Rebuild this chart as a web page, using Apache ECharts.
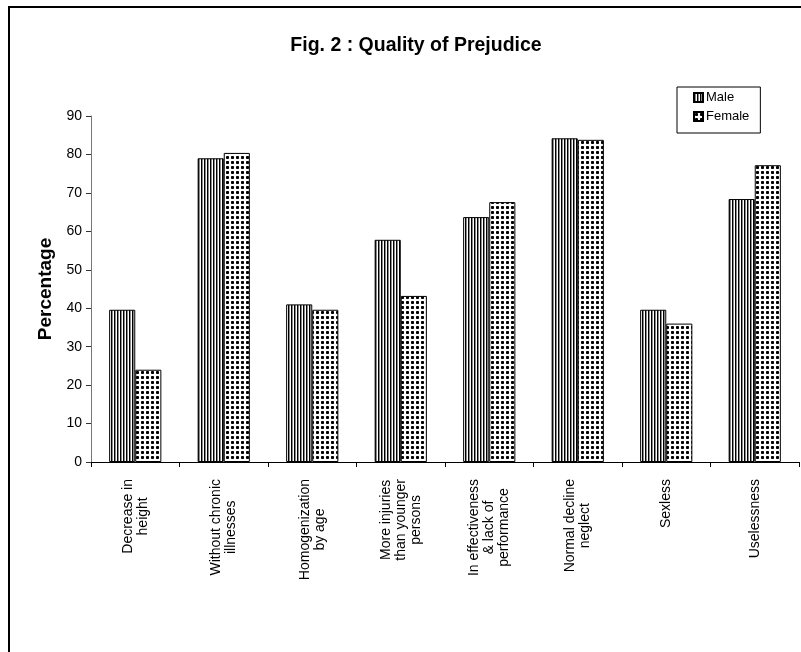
<!DOCTYPE html>
<html>
<head>
<meta charset="utf-8">
<script src="https://cdn.jsdelivr.net/npm/echarts@6/dist/echarts.min.js"></script>
<style>
  html, body { margin: 0; padding: 0; background: #fff; }
  #chart { width: 801px; height: 652px; }
</style>
</head>
<body>
<div id="chart"></div>
<script>
const categories = [
  'Decrease in\nheight',
  'Without chronic\nillnesses',
  'Homogenization\nby age',
  'More injuries\nthan younger\npersons',
  'In effectiveness\n& lack of\nperformance',
  'Normal decline\nneglect',
  'Sexless',
  'Uselessness'
]
const maleValues = [39.6, 79, 41, 57.8, 63.7, 84.2, 39.6, 68.4]
const femaleValues = [24, 80.4, 39.6, 43.2, 67.6, 83.8, 36, 77.2]
const seriesNames = ['Male', 'Female']

const FONT = '"Liberation Sans", Arial, sans-serif'

// fill patterns: vertical stripes for Male, dotted for Female
function makePattern(w, h, draw) {
  const c = document.createElement('canvas')
  c.width = w; c.height = h
  const ctx = c.getContext('2d')
  ctx.fillStyle = '#fff'
  ctx.fillRect(0, 0, w, h)
  draw(ctx)
  return { image: c, repeat: 'repeat' }
}
const stripes = makePattern(3, 4, ctx => {
  ctx.fillStyle = '#000'; ctx.fillRect(0, 0, 1, 4)
  ctx.fillStyle = '#8a8a8a'; ctx.fillRect(1, 0, 1, 4)
})
const dots = makePattern(5, 5, ctx => {
  ctx.fillStyle = '#000'
  ctx.fillRect(1, 2, 3, 1)
  ctx.fillRect(2, 1, 1, 3)
  ctx.fillStyle = '#333'
  ctx.fillRect(1, 1, 1, 1); ctx.fillRect(3, 1, 1, 1)
  ctx.fillRect(1, 3, 1, 1); ctx.fillRect(3, 3, 1, 1)
})

const chart = echarts.init(document.getElementById('chart'), null, { renderer: 'canvas' })

chart.setOption({
  animation: false,
  backgroundColor: '#fff',
  textStyle: { fontFamily: FONT },
  title: {
    text: 'Fig. 2 : Quality of Prejudice',
    left: 411, top: 31, textAlign: 'center',
    textStyle: { fontFamily: FONT, fontSize: 19.5, fontWeight: 'bold', color: '#000' }
  },
  graphic: [{
    type: 'rect', z: -10,
    shape: { x: 9, y: 7, width: 900, height: 900 },
    style: { fill: 'none', stroke: '#000', lineWidth: 2 }
  }],
  legend: {
    orient: 'vertical',
    left: 677, top: 87,
    padding: [4, 11, 10, 16],
    itemWidth: 9, itemHeight: 9, itemGap: 6,
    icon: 'rect',
    backgroundColor: '#fff',
    borderColor: '#000', borderWidth: 1,
    textStyle: { fontFamily: FONT, fontSize: 13, color: '#000', padding: [0, 0, 0, -2] },
    data: seriesNames
  },
  grid: { left: 91, right: 2, top: 116, bottom: 190, containLabel: false },
  xAxis: {
    type: 'category',
    data: categories,
    axisLine: { lineStyle: { color: '#000', width: 1 } },
    axisTick: { show: true, alignWithLabel: false, length: 5, lineStyle: { color: '#000' } },
    axisLabel: {
      interval: 0, rotate: 90, margin: 17,
      formatter: v => v.split('\n').map(s => '{c|' + s + '}').join('\n'),
      rich: { c: { align: 'center', fontFamily: FONT, fontSize: 14, lineHeight: 15, color: '#000' } }
    }
  },
  yAxis: {
    type: 'value',
    min: 0, max: 90, interval: 10,
    name: 'Percentage',
    nameLocation: 'middle', nameGap: 36,
    nameTextStyle: { fontFamily: FONT, fontSize: 19, fontWeight: 'bold', color: '#000' },
    axisLine: { show: true, lineStyle: { color: '#777', width: 1 } },
    axisTick: { show: true, length: 5, lineStyle: { color: '#333' } },
    axisLabel: { fontFamily: FONT, fontSize: 14, color: '#000', margin: 9 },
    splitLine: { show: false }
  },
  series: [
    {
      type: 'bar', name: seriesNames[0], data: maleValues,
      barGap: '0%', barCategoryGap: '41%',
      itemStyle: { color: stripes, borderColor: '#000', borderWidth: 1 }
    },
    {
      type: 'bar', name: seriesNames[1], data: femaleValues,
      barGap: '0%', barCategoryGap: '41%',
      itemStyle: { color: dots, borderColor: '#000', borderWidth: 1 }
    }
  ]
})
</script>
</body>
</html>
